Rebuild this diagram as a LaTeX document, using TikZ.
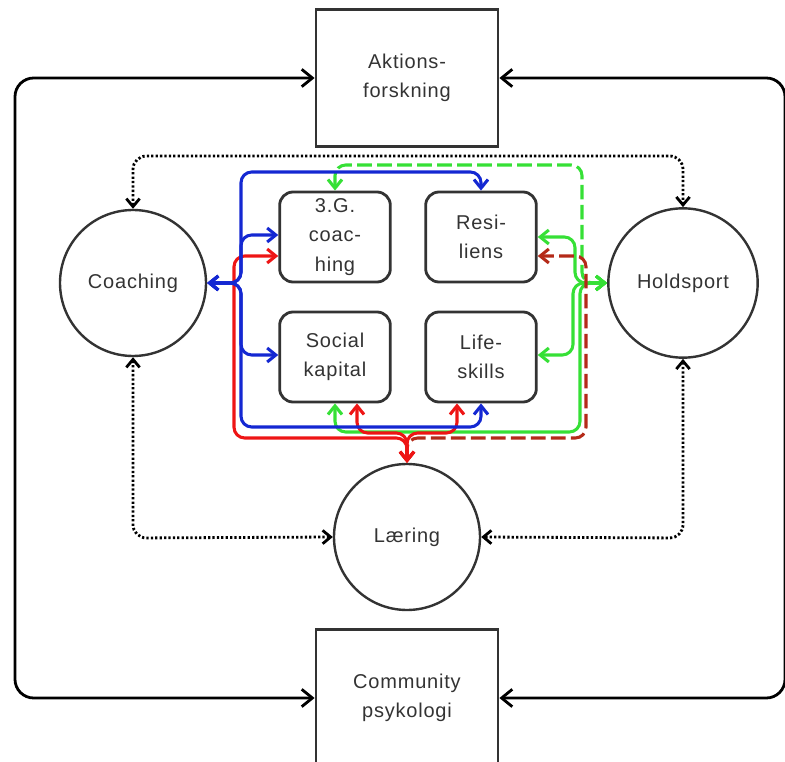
\documentclass[tikz,border=0pt]{standalone}
\usepackage{fontspec}
\setmainfont{Liberation Sans}[LetterSpace=4]
\usetikzlibrary{arrows.meta}

\definecolor{ink}{HTML}{333333}
\definecolor{cblue}{HTML}{1428D2}
\definecolor{cred}{HTML}{EE1515}
\definecolor{cdred}{HTML}{B42A18}
\definecolor{cgreen}{HTML}{36E036}

\tikzset{
  lbl/.style={text=ink, align=center, font=\fontsize{15}{22}\selectfont},
  sqbox/.style={lbl, draw=ink, line width=2.1pt, minimum width=136.5pt, minimum height=103pt, inner sep=0pt},
  topic/.style={lbl, draw=ink, line width=2.1pt, rounded corners=10pt, minimum width=83pt, minimum height=67.5pt, inner sep=0pt},
  hub/.style={lbl, draw=ink, line width=1.8pt, circle, minimum size=109.5pt, inner sep=0pt},
  bigtip/.tip={Straight Barb[length=8pt,width=13pt]},
  smalltip/.tip={Straight Barb[length=6pt,width=10pt]},
  cotip/.tip={Straight Barb[length=6.5pt,width=10.5pt]},
  loopline/.style={draw=black, line width=2.1pt, rounded corners=14pt, bigtip-bigtip},
  dotline/.style={draw=black, line width=2.1pt, dash pattern=on 1.7pt off 1.6pt, rounded corners=10pt, smalltip-smalltip},
  flow/.style={line width=2.3pt, rounded corners=8pt, cotip-cotip},
  bflow/.style={flow, draw=cblue},
  rflow/.style={flow, draw=cred},
  gflow/.style={flow, draw=cgreen},
  rdash/.style={flow, draw=cdred, dash pattern=on 11pt off 4pt},
  gdash/.style={flow, draw=cgreen, dash pattern=on 11pt off 4pt},
}

\begin{document}
\begin{tikzpicture}[x=0.75pt, y=-0.75pt]
\useasboundingbox (0,0) rectangle (785,762);

% outer research frames
\node[sqbox] (akt) at (407,78) {Aktions-\\forskning};
\node[sqbox] (com) at (407,698) {Community\\psykologi};

% three hubs
\node[hub] (coach) at (133,283) {Coaching};
\node[hub, minimum size=112pt] (hold) at (683,283) {Holdsport};
\node[hub] (laer) at (407,537) {Læring};

% four topics
\node[topic] (gco) at (335,237) {3.G.\\coac-\\hing};
\node[topic] (res) at (481,237) {Resi-\\liens};
\node[topic] (soc) at (335,357) {Social\\kapital};
\node[topic] (life) at (481,357) {Life-\\skills};

% outer loops
\draw[loopline] (akt.west) -- (15,78) -- (15,698) -- (com.west);
\draw[loopline] (akt.east) -- (785,78) -- (785,698) -- (com.east);

% dotted links between hubs
\draw[dotline] (coach.north) -- (coach.north |- 0,156) -- (hold.north |- 0,156) -- (hold.north);
\draw[dotline] (coach.south) -- (coach.south |- 0,538) -- (laer.west);
\draw[dotline] (hold.south) -- (hold.south |- 0,538) -- (laer.east);

% Holdsport links (green)
\draw[gdash] (hold.west) -- (582,283) -- (582,165) -- (335,165) -- (gco.north);
\draw[gflow] (hold.west) -- (575,283) -- (575,237) -- (res.east |- 0,237);
\draw[gflow] (hold.west) -- (573,283) -- (573,355) -- (life.east |- 0,355);
\draw[gflow] (hold.west) -- (580,283) -- (580,432) -- (335,432) -- (soc.south);

% Laering links (red)
\draw[rdash] (laer.north) -- (407,438) -- (586,438) -- (586,256) -- (res.east |- 0,256);
\draw[rflow] (laer.north) -- (407,438) -- (234,438) -- (234,256) -- (gco.west |- 0,256);
\draw[rflow] (laer.north) -- (407,433) -- (357,433) -- (soc.south -| 357,0);
\draw[rflow] (laer.north) -- (407,433) -- (457,433) -- (life.south -| 457,0);

% Coaching links (blue)
\draw[bflow] (coach.east) -- (241,283) -- (241,172) -- (481,172) -- (res.north);
\draw[bflow] (coach.east) -- (241,283) -- (241,235) -- (gco.west |- 0,235);
\draw[bflow] (coach.east) -- (241,283) -- (241,355) -- (soc.west |- 0,355);
\draw[bflow] (coach.east) -- (241,283) -- (241,427) -- (481,427) -- (life.south);
\end{tikzpicture}
\end{document}
